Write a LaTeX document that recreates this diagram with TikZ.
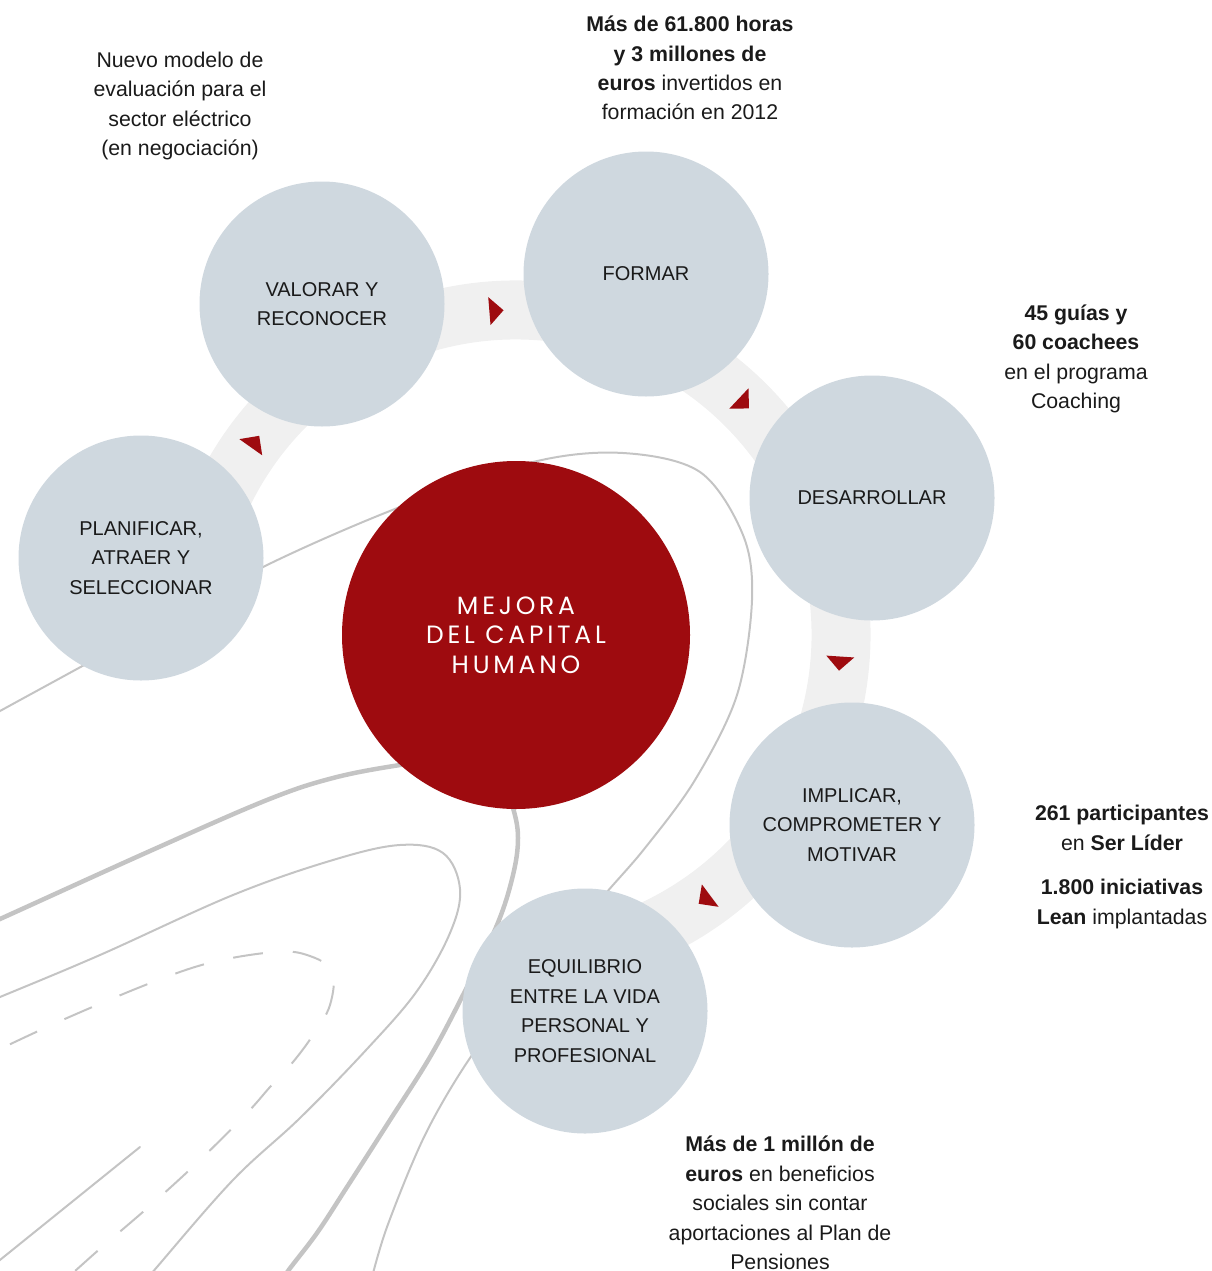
\documentclass[tikz,border=0pt]{standalone}
\usepackage{fontspec}
\setmainfont{Liberation Sans}
\newfontfamily\titlefont{Poppins}[LetterSpace=15]
\usepackage{tikz}

\definecolor{capred}{HTML}{9E0B0F}
\definecolor{stagegray}{HTML}{CFD8DF}
\definecolor{ringgray}{HTML}{F0F0F0}
\definecolor{linegray}{HTML}{C4C4C4}
\definecolor{inkblack}{HTML}{1A1A1A}

\begin{document}
\begin{tikzpicture}[x=1pt, y=-1pt,
    stage/.style={circle, fill=stagegray, minimum size=245pt, inner sep=0pt, align=center,
                  text=inkblack, font=\fontsize{20}{29.5}\selectfont},
    core/.style={circle, fill=capred, minimum size=348pt, inner sep=0pt, align=center,
                 text=white, font=\titlefont\fontsize{25}{29.5}\selectfont},
    note/.style={align=center, text=inkblack, font=\fontsize{21.3}{29.4}\selectfont},
    contour/.style={draw=linegray, line width=2pt, line cap=round},
    thickcontour/.style={draw=linegray, line width=4.5pt},
    dashcontour/.style={contour, line cap=butt, dash pattern=on 30pt off 30pt, dash phase=49pt},
    ring/.style={draw=ringgray, line width=59pt},
    turn/.style={fill=capred}]
    \useasboundingbox (0,0) rectangle (1212,1271);

    \begin{scope}
        \clip (0,0) rectangle (1212,1271);
        \draw[contour] plot[smooth, tension=0.55] coordinates {(-10,717) (0,711) (130,640) (263,567) (400,507)
            (533,462) (623,453) (700,472) (743,535) (752,600) (737,695) (695,780) (645,848) (600,900)
            (520,995) (470,1058) (425,1135) (387,1227) (370,1285)};
        \draw[thickcontour] plot[smooth, tension=0.6] coordinates {(-10,923) (0,919) (150,851) (267,800) (333,778) (400,765)
            (460,758) (500,775) (513,808) (518,838) (513,875) (497,925) (463,995) (430,1057) (390,1120)
            (347,1187) (317,1233) (288,1271) (280,1285)};
        \draw[contour] plot[smooth, tension=0.6] coordinates {(-10,1001) (0,997) (100,955) (233,895) (333,860) (400,845)
            (443,853) (460,889) (450,933) (417,991) (367,1049) (300,1118) (233,1180) (157,1267) (145,1282)};
        \draw[dashcontour] plot[smooth, tension=0.6] coordinates {(0,1049) (67,1018) (153,982) (213,962) (275,952)
            (307,955) (332,971) (330,1005) (313,1035) (293,1062) (270,1087) (247,1113) (200,1160)
            (152,1204) (102,1247) (75,1271) (60,1284)};
        \draw[contour] (-10,1268) -- (140,1147);
    \end{scope}

    \draw[ring] (516,635) ++(-170:325) arc[start angle=170, end angle=-80, radius=325pt];
    \begin{scope}[shift={(516,635)}]
        \foreach \a in {-143.5,-93.5,-45.5,5,54.5}
            \fill[turn] (\a-1.2:311) -- (\a-1.2:339) -- (\a+1.3:325) -- cycle;
    \end{scope}

    \node[stage] (planificar) at (141,558) {PLANIFICAR,\\ATRAER Y\\SELECCIONAR};
    \node[stage] (valorar) at (322,304) {VALORAR Y\\RECONOCER};
    \node[stage] (formar) at (646,274) {FORMAR};
    \node[stage] (desarrollar) at (872,498) {DESARROLLAR};
    \node[stage] (implicar) at (852,825) {IMPLICAR,\\COMPROMETER Y\\MOTIVAR};
    \node[stage] (equilibrio) at (585,1011) {EQUILIBRIO\\ENTRE LA VIDA\\PERSONAL Y\\PROFESIONAL};
    \node[core] (mejora) at (516,635) {MEJORA\\DEL CAPITAL\\HUMANO};

    \node[note] (valorarnote) at (180,106) {Nuevo modelo de\\evaluación para el\\sector eléctrico\\(en negociación)};
    \node[note] (formarnote) at (690,68) {\textbf{Más de 61.800 horas}\\\textbf{y 3 millones de}\\\textbf{euros} invertidos en\\formación en 2012};
    \node[note] (desarrollarnote) at (1076,359) {\textbf{45 guías y}\\\textbf{60 coachees}\\en el programa\\Coaching};
    \node[note] (implicarnote) at (1122,867) {\textbf{261 participantes}\\en \textbf{Ser Líder}\\[15pt]\textbf{1.800 iniciativas}\\\textbf{Lean} implantadas};
    \node[note] (equilibrionote) at (780,1203) {\textbf{Más de 1 millón de}\\\textbf{euros} en beneficios\\sociales sin contar\\aportaciones al Plan de\\Pensiones};
\end{tikzpicture}
\end{document}
